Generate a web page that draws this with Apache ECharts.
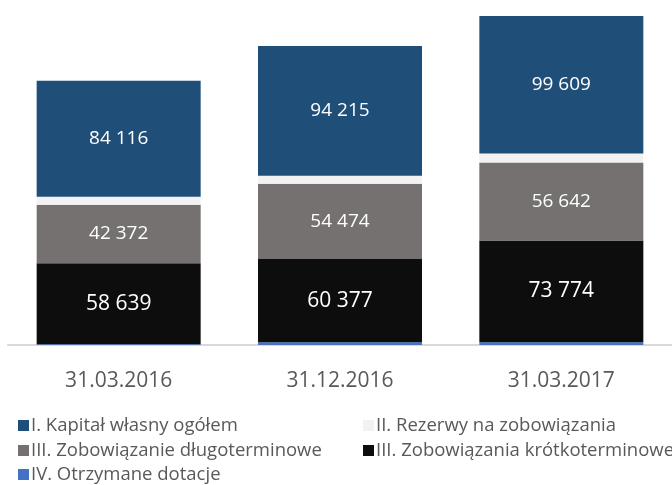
<!DOCTYPE html>
<html>
<head>
<meta charset="utf-8">
<script src="https://cdn.jsdelivr.net/npm/echarts@6/dist/echarts.min.js"></script>
<style>
  html, body { margin: 0; padding: 0; background: #fff; }
  #chart { width: 672px; height: 485px; }
</style>
</head>
<body>
<div id="chart"></div>
<script>
const categories = ["31.03.2016", "31.12.2016", "31.03.2017"];
const kapital = [84116, 94215, 99609];
const rezerwy = [5800, 5800, 6500];
const dlugoterminowe = [42372, 54474, 56642];
const krotkoterminowe = [58639, 60377, 73774];
const dotacje = [600, 2000, 2000];

const names = [
  "I. Kapitał własny ogółem",
  "II. Rezerwy na zobowiązania",
  "III. Zobowiązanie długoterminowe",
  "III. Zobowiązania krótkoterminowe",
  "IV. Otrzymane dotacje",
];

const font = "Open Sans";
const fmt = (p) => String(p.value).replace(/\B(?=(\d{3})+(?!\d))/g, " ");

const mk = (name, data, color, labelSize) => ({
  name: name,
  type: "bar",
  stack: "total",
  barWidth: 164,
  data: data,
  itemStyle: { color: color },
  label: {
    show: labelSize > 0,
    position: "inside",
    color: "#ffffff",
    fontFamily: font,
    fontSize: labelSize,
    formatter: fmt,
  },
});

// one legend per item, laid out in two columns like the original
const legendAt = (name, left, top) => ({
  left: left,
  top: top,
  padding: 0,
  icon: "rect",
  itemWidth: 11,
  itemHeight: 11,
  data: [name],
  textStyle: { color: "#595959", fontFamily: font, fontSize: 18.5, padding: [0, 0, 0, -3] },
});

const chart = echarts.init(document.getElementById("chart"));
chart.setOption({
  animation: false,
  grid: { left: 8, right: -4, top: 14, bottom: 140 },
  legend: [
    legendAt(names[0], 18, 416),
    legendAt(names[1], 363, 416),
    legendAt(names[2], 18, 441),
    legendAt(names[3], 363, 441),
    legendAt(names[4], 18, 465),
  ],
  xAxis: {
    type: "category",
    data: categories,
    axisLine: { lineStyle: { color: "#d9d9d9", width: 2 } },
    axisTick: { show: false },
    axisLabel: { color: "#595959", fontFamily: font, fontSize: 21, margin: 26 },
  },
  yAxis: {
    type: "value",
    min: 0,
    max: 240000,
    show: false,
    splitLine: { show: false },
  },
  series: [
    mk(names[4], dotacje, "#4472c4", 0),
    mk(names[3], krotkoterminowe, "#0d0d0d", 21),
    mk(names[2], dlugoterminowe, "#767171", 19),
    mk(names[1], rezerwy, "#f2f2f2", 0),
    mk(names[0], kapital, "#1f4e79", 19),
  ],
});
</script>
</body>
</html>
